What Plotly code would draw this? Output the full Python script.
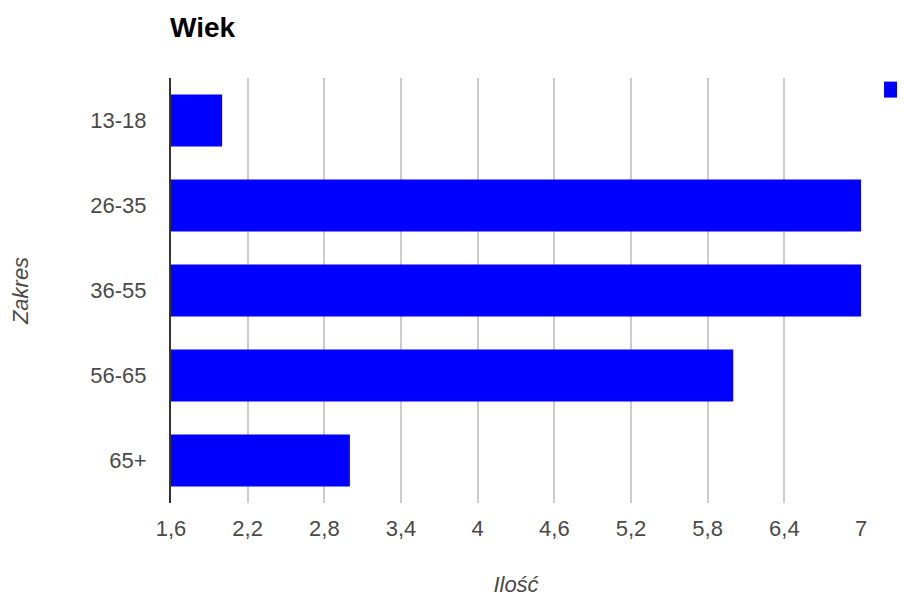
import plotly.graph_objects as go

categories = ["13-18", "26-35", "36-55", "56-65", "65+"]
values = [2, 7, 7, 6, 3]
x_ticks = [1.6, 2.2, 2.8, 3.4, 4, 4.6, 5.2, 5.8, 6.4, 7]

FONT = "Arial, Liberation Sans, sans-serif"

fig = go.Figure()
fig.add_trace(
    go.Bar(
        x=values,
        y=categories,
        orientation="h",
        marker=dict(color="#0000ff", line=dict(width=0)),
        name=" ",
        showlegend=False,
        legendgroup="s",
    )
)
# legend entry (larger square swatch like the reference)
fig.add_trace(
    go.Scatter(
        x=[None],
        y=[None],
        mode="markers",
        marker=dict(symbol="square", size=24, color="#0000ff"),
        name=" ",
        showlegend=True,
        legendgroup="s",
    )
)

fig.update_layout(
    width=905,
    height=601,
    paper_bgcolor="white",
    plot_bgcolor="white",
    separators=", ",
    margin=dict(l=163, r=52, t=70, b=106, autoexpand=False),
    bargap=0.39,
    font=dict(family=FONT, color="#444444", size=22),
    title=dict(
        text="<b>Wiek</b>",
        font=dict(family=FONT, size=28, color="#000000"),
        x=162 / 905,
        xanchor="left",
        xref="container",
        y=1 - 19 / 601,
        yanchor="middle",
        yref="container",
    ),
    legend=dict(
        x=1.016,
        xanchor="left",
        y=1.0094,
        yanchor="top",
        font=dict(size=14),
        bgcolor="rgba(0,0,0,0)",
    ),
    xaxis=dict(
        range=[1.6, 7],
        tickvals=x_ticks,
        showgrid=True,
        gridcolor="#cccccc",
        gridwidth=2,
        zeroline=False,
        showline=False,
        ticks="",
        ticklabelstandoff=10,
        tickfont=dict(family=FONT, size=22, color="#4a4a4a"),
        title=dict(
            text="<i>Ilość</i>",
            font=dict(family=FONT, size=22, color="#4a4a4a"),
            standoff=36,
        ),
    ),
    yaxis=dict(
        autorange="reversed",
        showgrid=False,
        zeroline=False,
        showline=True,
        linecolor="#333333",
        linewidth=2,
        ticks="",
        ticklabelstandoff=18,
        tickfont=dict(family=FONT, size=22, color="#4a4a4a"),
        title=dict(
            text="<i>Zakres</i>",
            font=dict(family=FONT, size=22, color="#4a4a4a"),
            standoff=59,
        ),
    ),
)

fig.write_html("out.html")
